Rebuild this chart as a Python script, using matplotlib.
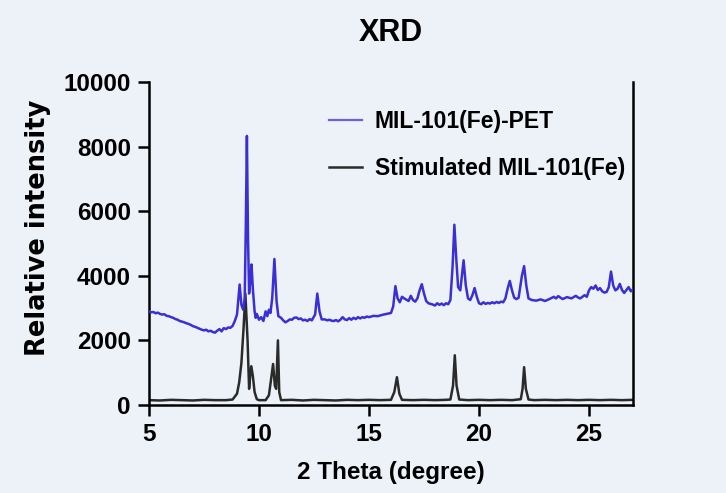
import matplotlib
matplotlib.use("Agg")
import matplotlib.pyplot as plt
from matplotlib.lines import Line2D

# ---------------- data ----------------
pet_x = [5.00, 5.10, 5.20, 5.30, 5.40, 5.50, 5.60, 5.70, 5.80, 5.90,
         6.00, 6.10, 6.20, 6.30, 6.40, 6.50, 6.60, 6.70, 6.80, 6.90,
         7.00, 7.10, 7.20, 7.30, 7.40, 7.50, 7.60, 7.70, 7.80, 7.90,
         8.00, 8.10, 8.20, 8.30, 8.40, 8.50, 8.60, 8.70, 8.80, 8.90,
         9.00, 9.05, 9.12, 9.20, 9.28, 9.35, 9.40, 9.45, 9.50, 9.55,
         9.60, 9.66, 9.72, 9.80, 9.85, 9.90, 10.00, 10.10, 10.20, 10.30,
         10.38, 10.45, 10.52, 10.60, 10.70, 10.80, 10.88, 11.00, 11.10, 11.20,
         11.30, 11.40, 11.50, 11.60, 11.70, 11.80, 11.90, 12.00, 12.10, 12.20,
         12.30, 12.40, 12.55, 12.65, 12.75, 12.85, 13.00, 13.10, 13.20, 13.30,
         13.40, 13.50, 13.60, 13.70, 13.80, 13.90, 14.00, 14.10, 14.20, 14.30,
         14.40, 14.50, 14.60, 14.70, 14.80, 14.90, 15.00, 15.20, 15.40, 15.60,
         15.80, 16.00, 16.10, 16.20, 16.30, 16.40, 16.50, 16.60, 16.70, 16.80,
         16.90, 17.00, 17.10, 17.20, 17.30, 17.40, 17.50, 17.60, 17.70, 17.80,
         17.90, 18.00, 18.10, 18.20, 18.30, 18.40, 18.50, 18.60, 18.70, 18.80,
         18.88, 18.96, 19.05, 19.15, 19.30, 19.40, 19.50, 19.60, 19.70, 19.80,
         19.90, 20.00, 20.10, 20.20, 20.30, 20.40, 20.50, 20.60, 20.70, 20.80,
         20.90, 21.00, 21.10, 21.20, 21.30, 21.40, 21.50, 21.60, 21.70, 21.80,
         21.95, 22.05, 22.15, 22.25, 22.40, 22.60, 22.80, 23.00, 23.20, 23.40,
         23.50, 23.60, 23.80, 24.00, 24.20, 24.40, 24.50, 24.60, 24.80, 24.90,
         25.00, 25.10, 25.20, 25.30, 25.40, 25.50, 25.60, 25.70, 25.80, 25.90,
         26.00, 26.10, 26.20, 26.30, 26.40, 26.50, 26.60, 26.70, 26.80, 26.90,
         27.00]
pet_y = [2900, 2870, 2880, 2840, 2860, 2820, 2800, 2810, 2760, 2750,
         2720, 2700, 2660, 2640, 2600, 2580, 2560, 2530, 2510, 2480,
         2440, 2420, 2390, 2360, 2330, 2310, 2330, 2280, 2300, 2260,
         2240, 2300, 2350, 2280, 2380, 2350, 2400, 2390, 2450, 2600,
         2800, 3200, 3730, 3100, 2950, 3300, 5500, 8330, 5200, 3450,
         3800, 4350, 3600, 2900, 2700, 2820, 2640, 2720, 2600, 2900,
         2750, 2950, 2850, 3300, 4520, 3200, 2750, 2700, 2620, 2560,
         2600, 2650, 2640, 2700, 2710, 2660, 2680, 2620, 2640, 2600,
         2660, 2620, 2800, 3450, 2900, 2650, 2650, 2620, 2640, 2610,
         2600, 2630, 2590, 2640, 2720, 2650, 2630, 2690, 2640, 2700,
         2660, 2720, 2680, 2720, 2700, 2740, 2720, 2760, 2750, 2790,
         2820, 2850, 3050, 3680, 3300, 3180, 3350, 3300, 3260, 3220,
         3380, 3250, 3200, 3300, 3550, 3740, 3450, 3220, 3150, 3130,
         3110, 3080, 3150, 3100, 3140, 3090, 3150, 3120, 3250, 4300,
         5580, 4600, 3650, 3550, 4480, 3700, 3300, 3250, 3400, 3620,
         3350, 3150, 3120, 3180, 3130, 3160, 3140, 3180, 3150, 3190,
         3160, 3200, 3180, 3300, 3600, 3840, 3550, 3320, 3280, 3320,
         4000, 4300, 3700, 3300, 3250, 3230, 3270, 3220, 3280, 3350,
         3300, 3370, 3280, 3340, 3300, 3380, 3330, 3300, 3400, 3350,
         3550, 3650, 3600, 3700, 3560, 3620, 3520, 3480, 3500, 3650,
         4130, 3700, 3550, 3600, 3750, 3560, 3470, 3560, 3650, 3520,
         3580]

sim_x = [5.00, 5.50, 6.00, 6.50, 7.00, 7.50, 8.00, 8.50, 8.80, 9.00,
         9.10, 9.20, 9.30, 9.38, 9.48, 9.55, 9.60, 9.65, 9.72, 9.80,
         9.90, 10.00, 10.30, 10.45, 10.55, 10.64, 10.72, 10.78, 10.86, 10.92,
         11.00, 11.50, 12.00, 12.50, 13.00, 13.50, 14.00, 14.50, 15.00, 15.50,
         16.00, 16.15, 16.27, 16.38, 16.50, 17.00, 17.50, 18.00, 18.50, 18.70,
         18.82, 18.90, 18.98, 19.10, 19.50, 20.00, 20.50, 21.00, 21.50, 21.90,
         21.98, 22.05, 22.13, 22.25, 22.50, 23.00, 23.50, 24.00, 24.50, 25.00,
         25.50, 26.00, 26.50, 27.00]
sim_y = [150, 140, 160, 150, 140, 160, 150, 150, 170, 350,
         700, 1300, 2400, 3450, 2000, 500, 900, 1200, 900, 400,
         180, 150, 150, 300, 800, 1270, 600, 500, 2000, 400,
         150, 160, 140, 160, 150, 140, 160, 150, 160, 150,
         160, 400, 860, 350, 160, 150, 160, 150, 160, 170,
         600, 1540, 600, 170, 150, 160, 150, 160, 150, 180,
         500, 1170, 500, 170, 150, 160, 150, 160, 150, 160,
         150, 160, 150, 160]

x_ticks = [5, 10, 15, 20, 25]
y_ticks = [0, 2000, 4000, 6000, 8000, 10000]
labels = ["MIL-101(Fe)-PET", "Stimulated MIL-101(Fe)"]

# ---------------- style ----------------
BG = "#edf1f8"
BLUE = "#3a2fd4"
BLACK = "#2a2a2a"
plt.rcParams["font.family"] = ["Liberation Sans", "DejaVu Sans"]
plt.rcParams["font.weight"] = "bold"

fig = plt.figure(figsize=(7.26, 4.93), dpi=100, facecolor=BG)
W, H = 726, 493
L, R, T, B = 149, 633, 82, 405
ax = fig.add_axes([L / W, 1 - B / H, (R - L) / W, (B - T) / H])
ax.set_facecolor(BG)

ax.plot(sim_x, sim_y, color=BLACK, lw=1.8, zorder=2)
ax.plot(pet_x, pet_y, color=BLUE, lw=1.8, zorder=3)

ax.set_xlim(5, 27)
ax.set_ylim(0, 10000)
ax.set_xticks(x_ticks)
ax.set_yticks(y_ticks)
ax.tick_params(axis="both", which="major", direction="out", length=8, width=1.8,
               labelsize=17.5, pad=5, color="black")
for lab in ax.get_xticklabels() + ax.get_yticklabels():
    lab.set_fontweight("bold")

for side in ("left", "bottom", "right"):
    ax.spines[side].set_linewidth(1.8)
    ax.spines[side].set_color("black")
ax.spines["top"].set_visible(False)

ax.set_xlabel("2 Theta (degree)", fontsize=17.5, fontweight="bold")
ax.xaxis.set_label_coords(0.5, -(472 - B) / (B - T), transform=ax.transAxes)
ax.xaxis.label.set_verticalalignment("center")
ax.set_ylabel("Relative intensity", fontsize=18.5, fontweight="bold",
              family="DejaVu Sans")
ax.yaxis.set_label_coords(-(149 - 38) / (R - L), (B - 228) / (B - T))
ax.yaxis.label.set_verticalalignment("center")

fig.text((L + R) / 2 / W, 1 - 33 / H, "XRD", ha="center", va="center",
         fontsize=22, fontweight="bold")

handles = [Line2D([], [], color="#6a60d8", lw=1.6),
           Line2D([], [], color=BLACK, lw=1.8)]
leg = ax.legend(handles, labels, loc="upper left",
                bbox_to_anchor=(329 / W, 1 - 110 / H), bbox_transform=fig.transFigure,
                frameon=False, fontsize=16.5, handlelength=1.45, handletextpad=0.55,
                labelspacing=1.05, borderpad=0, borderaxespad=0)
for t in leg.get_texts():
    t.set_fontweight("bold")

fig.savefig("out.png", dpi=100, facecolor=BG)
